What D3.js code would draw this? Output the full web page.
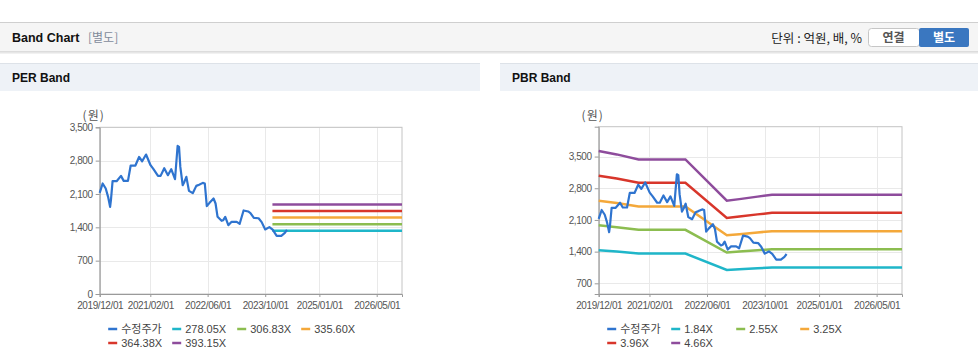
<!DOCTYPE html>
<html>
<head>
<meta charset="utf-8">
<script src="https://cdn.jsdelivr.net/npm/d3@7"></script>
<style>
  body { margin: 0; background: #fff; }
  svg { display: block; font-family: "Liberation Sans", Arial, sans-serif; }
  .kr { font-family: "Noto Sans CJK KR", "Noto Sans", sans-serif; }
</style>
</head>
<body>
<div id="chart"></div>
<script>
const W = 978, H = 362;

// price (수정주가)
const priceDates = ["2019-12-01","2019-12-26","2020-01-21","2020-02-10","2020-02-27","2020-03-05","2020-03-19","2020-04-22","2020-05-29","2020-06-21","2020-07-27","2020-08-19","2020-09-28","2020-10-29","2020-11-24","2020-12-27","2021-02-03","2021-02-28","2021-04-07","2021-04-29","2021-05-30","2021-06-30","2021-07-28","2021-08-29","2021-09-20","2021-10-02","2021-10-13","2021-11-02","2021-11-16","2021-12-03","2021-12-25","2022-01-26","2022-02-25","2022-03-21","2022-04-21","2022-05-08","2022-05-25","2022-06-17","2022-07-21","2022-08-07","2022-08-24","2022-09-27","2022-10-11","2022-10-28","2022-11-23","2022-12-21","2023-02-02","2023-02-27","2023-04-01","2023-05-10","2023-05-29","2023-06-27","2023-08-06","2023-09-01","2023-10-01","2023-11-05","2023-12-03","2024-01-06","2024-02-14","2024-03-15","2024-04-02"];
const priceValues = [2123,2320,2215,2040,1830,1970,2368,2368,2480,2375,2375,2697,2697,2877,2787,2928,2704,2620,2480,2480,2641,2494,2620,2410,3108,3090,2669,2285,2354,2459,2165,2117,2270,2295,2333,2320,1844,1914,2005,1900,1620,1536,1550,1620,1446,1515,1515,1474,1754,1733,1700,1600,1590,1509,1356,1404,1350,1222,1222,1285,1348];

// PER band
const perLabels = ["278.05X","306.83X","335.60X","364.38X","393.15X"];
const perBandDates = ["2023-12-01","2026-12-01"];
const perBandValues = [
  [1329,1329],
  [1467,1467],
  [1604,1604],
  [1742,1742],
  [1879,1879]
];

// PBR band
const pbrLabels = ["1.84X","2.55X","3.25X","3.96X","4.66X"];
const pbrBandDates = ["2019-12-01","2020-05-01","2020-11-01","2021-12-01","2022-11-15","2023-03-01","2023-08-01","2023-12-01","2026-12-01"];
const pbrBandValues = [
  [1430,1401,1357,1357,997,1011,1032,1049,1049],
  [1981,1941,1881,1881,1381,1401,1431,1453,1453],
  [2525,2474,2398,2398,1760,1785,1824,1852,1852],
  [3078,3016,2922,2922,2145,2176,2223,2258,2258],
  [3621,3548,3438,3438,2524,2560,2615,2656,2656]
];

const xTickLabels = ["2019-12-01","2021-02-01","2022-06-01","2023-10-01","2025-01-01","2026-05-01"];
const xDomain = ["2019-12-01","2026-12-01"];
const yTicks = [0,700,1400,2100,2800,3500];

const priceColor = "#2f74cf";
const bandColors = ["#1fb6c9","#8cbd50","#f4a83a","#d8362b","#8e4c9c"];

const parse = d3.timeParse("%Y-%m-%d");
const fmtDate = d3.timeFormat("%Y/%m/%d");

const svg = d3.select("#chart").append("svg")
  .attr("width", W).attr("height", H);

// ---- top header ----
svg.append("rect").attr("x",0).attr("y",22).attr("width",W).attr("height",1).attr("fill","#cfcfcf");
svg.append("rect").attr("x",0).attr("y",23).attr("width",W).attr("height",28).attr("fill","#f5f5f5");
[["#dcdcdc",51],["#e6e6e6",52],["#f1f1f1",53]].forEach(([c,y]) =>
  svg.append("rect").attr("x",0).attr("y",y).attr("width",W).attr("height",1).attr("fill",c));

svg.append("text").attr("x",12).attr("y",42).attr("font-size",12.5).attr("font-weight","bold")
  .attr("fill","#111").text("Band Chart");
svg.append("text").attr("class","kr").attr("x",88).attr("y",42).attr("font-size",12)
  .attr("fill","#7f8b9b").text("[별도]");

svg.append("text").attr("class","kr").attr("x",862).attr("y",42.5).attr("font-size",12.5)
  .attr("text-anchor","end").attr("fill","#222").text("단위 : 억원, 배, %");

svg.append("rect").attr("x",868.5).attr("y",28.5).attr("width",51).attr("height",18).attr("rx",3)
  .attr("fill","#fff").attr("stroke","#c6c6c6");
svg.append("text").attr("class","kr").attr("x",893.5).attr("y",42).attr("font-size",12).attr("font-weight","bold")
  .attr("text-anchor","middle").attr("fill","#555").text("연결");
svg.append("rect").attr("x",919).attr("y",28).attr("width",50).attr("height",19).attr("rx",2)
  .attr("fill","#3a77c0");
svg.append("text").attr("class","kr").attr("x",944).attr("y",42).attr("font-size",12).attr("font-weight","bold")
  .attr("text-anchor","middle").attr("fill","#fff").text("별도");

// ---- panels ----
function panel(x0, w, title) {
  svg.append("rect").attr("x",x0).attr("y",63).attr("width",w).attr("height",1).attr("fill","#dde2e8");
  svg.append("rect").attr("x",x0).attr("y",64).attr("width",w).attr("height",27).attr("fill","#eef2f7");
  svg.append("text").attr("x",x0+12).attr("y",82).attr("font-size",12).attr("font-weight","bold")
    .attr("fill","#111").text(title);
}
panel(0, 480, "PER Band");
panel(500, 478, "PBR Band");

function chart(opt) {
  const x = d3.scaleTime().domain(xDomain.map(parse)).range([opt.left, opt.right]);
  const y = d3.scaleLinear().domain(opt.yDomain).range([294, opt.top]);
  const ticks = yTicks.filter(t => t >= opt.yDomain[0]);
  const xt = xTickLabels.map(parse);

  const g = svg.append("g");
  // grid
  g.selectAll(".hg").data(ticks).enter().append("line")
    .attr("x1", opt.left).attr("x2", opt.right)
    .attr("y1", d => Math.round(y(d)) + 0.5).attr("y2", d => Math.round(y(d)) + 0.5)
    .attr("stroke", "#e9e9e9");
  g.selectAll(".vg").data(xt.slice(1)).enter().append("line")
    .attr("x1", d => Math.round(x(d)) + 0.5).attr("x2", d => Math.round(x(d)) + 0.5)
    .attr("y1", opt.top).attr("y2", 294)
    .attr("stroke", "#e9e9e9");
  // border
  g.append("rect").attr("x", opt.left).attr("y", opt.top)
    .attr("width", opt.right - opt.left).attr("height", 294 - opt.top)
    .attr("fill", "none").attr("stroke", "#c4c4c4");

  // axes
  const yAxis = g.append("g").attr("transform", `translate(${opt.left},0)`)
    .call(d3.axisLeft(y).tickValues(ticks).tickFormat(d3.format(",")).tickSize(4).tickPadding(3));
  const xAxis = g.append("g").attr("transform", "translate(0,294)")
    .call(d3.axisBottom(x).tickValues(xt).tickFormat(fmtDate).tickSize(3).tickPadding(5));
  [yAxis, xAxis].forEach(a => {
    a.select(".domain").attr("stroke", "#9a9a9a");
    a.selectAll(".tick line").attr("stroke", "#9a9a9a");
    a.selectAll("text").attr("fill", "#555").attr("font-size", 10)
      .attr("letter-spacing", "-0.4px").attr("font-family", "Liberation Sans, Arial, sans-serif");
  });

  svg.append("text").attr("class","kr").attr("x", opt.left - 6).attr("y", 120)
    .attr("text-anchor","middle").attr("font-size", 12).attr("letter-spacing", "1px")
    .attr("fill", "#555").text("(원)");

  const line = d3.line().x(d => x(d[0])).y(d => y(d[1]));

  opt.bandValues.forEach((vals, i) => {
    const pts = opt.bandDates.map((d, j) => [parse(d), vals[j]]);
    g.append("path").attr("d", line(pts)).attr("fill", "none")
      .attr("stroke", bandColors[i]).attr("stroke-width", 2.5);
  });

  const pp = priceDates.map((d, i) => [parse(d), priceValues[i]]);
  g.append("path").attr("d", line(pp)).attr("fill", "none")
    .attr("stroke", priceColor).attr("stroke-width", 2.2).attr("stroke-linejoin", "round");

  // legend
  const items = [{name: "수정주가", color: priceColor}]
    .concat(opt.labels.map((l, i) => ({name: l, color: bandColors[i]})));
  const colX = [8.5, 72.5, 137.5, 201.5];
  items.forEach((it, i) => {
    const lx = opt.left + colX[i % 4];
    const ly = i < 4 ? 329 : 343;
    svg.append("line").attr("x1", lx).attr("x2", lx + 9).attr("y1", ly).attr("y2", ly)
      .attr("stroke", it.color).attr("stroke-width", 2.5);
    svg.append("text").attr("class", i === 0 ? "kr" : null)
      .attr("x", lx + 13).attr("y", ly + 4).attr("font-size", 11).attr("fill", "#444").text(it.name);
  });
}

chart({left: 99.7, right: 402, top: 127.3, yDomain: [0, 3500],
  bandDates: perBandDates, bandValues: perBandValues, labels: perLabels});
chart({left: 598.7, right: 902, top: 126.7, yDomain: [464, 4160],
  bandDates: pbrBandDates, bandValues: pbrBandValues, labels: pbrLabels});
</script>
</body>
</html>
